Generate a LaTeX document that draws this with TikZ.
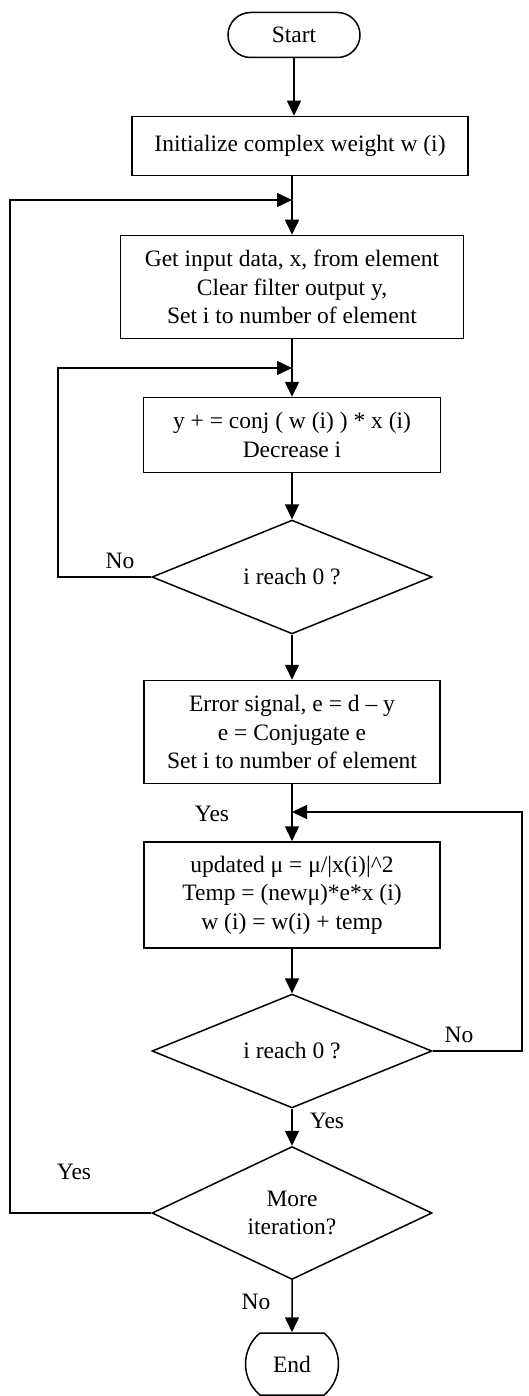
\documentclass[tikz,border=0pt]{standalone}
\usepackage{fontspec}
\setmainfont{Liberation Serif}
\usetikzlibrary{calc,shapes.geometric,shapes.misc,arrows.meta}

\begin{document}
\begin{tikzpicture}[x=1pt,y=-1pt,line width=1.5pt,
  font=\fontsize{23.5}{28.5}\selectfont,
  boite/.style={draw,rectangle,align=center,inner sep=0pt},
  losange/.style={draw,diamond,align=center,inner sep=0pt,minimum width=280pt,minimum height=88pt},
  borne/.style={draw,rounded rectangle,align=center,inner sep=0pt},
  fleche/.style={-{Triangle[length=15pt,width=14pt]}},
  etiq/.style={inner sep=0pt}]
\useasboundingbox (0,0) rectangle (529,1396);

% blocs, colonne centrale a x=292
\node[borne,minimum width=132pt,minimum height=45pt] (start) at (294,35) {Start};
\node[boite,minimum width=336pt,minimum height=59pt] (init) at (300,146) {Initialize complex weight w (i)};
\node[boite,minimum width=343pt,minimum height=103pt] (getin) at (292,287)
  {Get input data, x, from element\\Clear filter output y,\\Set i to number of element};
\node[boite,minimum width=297pt,minimum height=75pt] (accu) at (292,435)
  {y + = conj ( w (i) ) * x (i)\\Decrease i};
\node[losange] (test1) at (292,577) {i reach 0 ?};
\node[boite,minimum width=296pt,minimum height=103pt] (err) at (292,732)
  {Error signal, e = d -- y\\e = Conjugate e\\Set i to number of element};
\node[boite,minimum width=296pt,minimum height=106pt] (maj) at (292,895)
  {updated μ = μ/|x(i)|\textasciicircum 2\\Temp = (newμ)*e*x (i)\\w (i) = w(i) + temp};
\node[losange] (test2) at (292,1051) {i reach 0 ?};
\node[losange,minimum height=120pt] (test3) at (292,1213) {More\\iteration?};
\node[borne,rounded rectangle arc length=100,minimum width=93pt,minimum height=62pt] (fin) at (292,1364) {End};

% points de jonction
\coordinate (m1) at (292,200);
\coordinate (m2) at (292,368);
\coordinate (m3) at (292,812);
\coordinate (xg) at (10,0);
\coordinate (xn) at (58,0);
\coordinate (xd) at (522,0);

\draw[fleche] (start.south) -- (start.south |- init.north);
\draw (init.south -| m1) -- (m1);
\draw[fleche] (m1) -- (m1 |- getin.north);
\draw (getin.south -| m2) -- (m2);
\draw[fleche] (m2) -- (m2 |- accu.north);
\draw[fleche] (accu) -- (test1);
\draw[fleche] (test1) -- (err);
\draw (err.south -| m3) -- (m3);
\draw[fleche] (m3) -- (m3 |- maj.north);
\draw[fleche] (maj) -- (test2);
\draw[fleche] (test2) -- (test3);
\draw[fleche] (test3) -- (fin);

% boucles
\draw[fleche] (test1.west) -| (xn |- m2) -- (m2);
\draw[fleche] (test2.east) -| (xd |- m3) -- (m3);
\draw[fleche] (test3.west) -| (xg |- m1) -- (m1);

% etiquettes
\node[etiq] (no1) at (120,561) {No};
\node[etiq] (yes1) at (212,814) {Yes};
\node[etiq] (no2) at (459,1035) {No};
\node[etiq] (yes2) at (327,1121) {Yes};
\node[etiq] (yes3) at (74,1172) {Yes};
\node[etiq] (no3) at (256,1302) {No};

\end{tikzpicture}
\end{document}
